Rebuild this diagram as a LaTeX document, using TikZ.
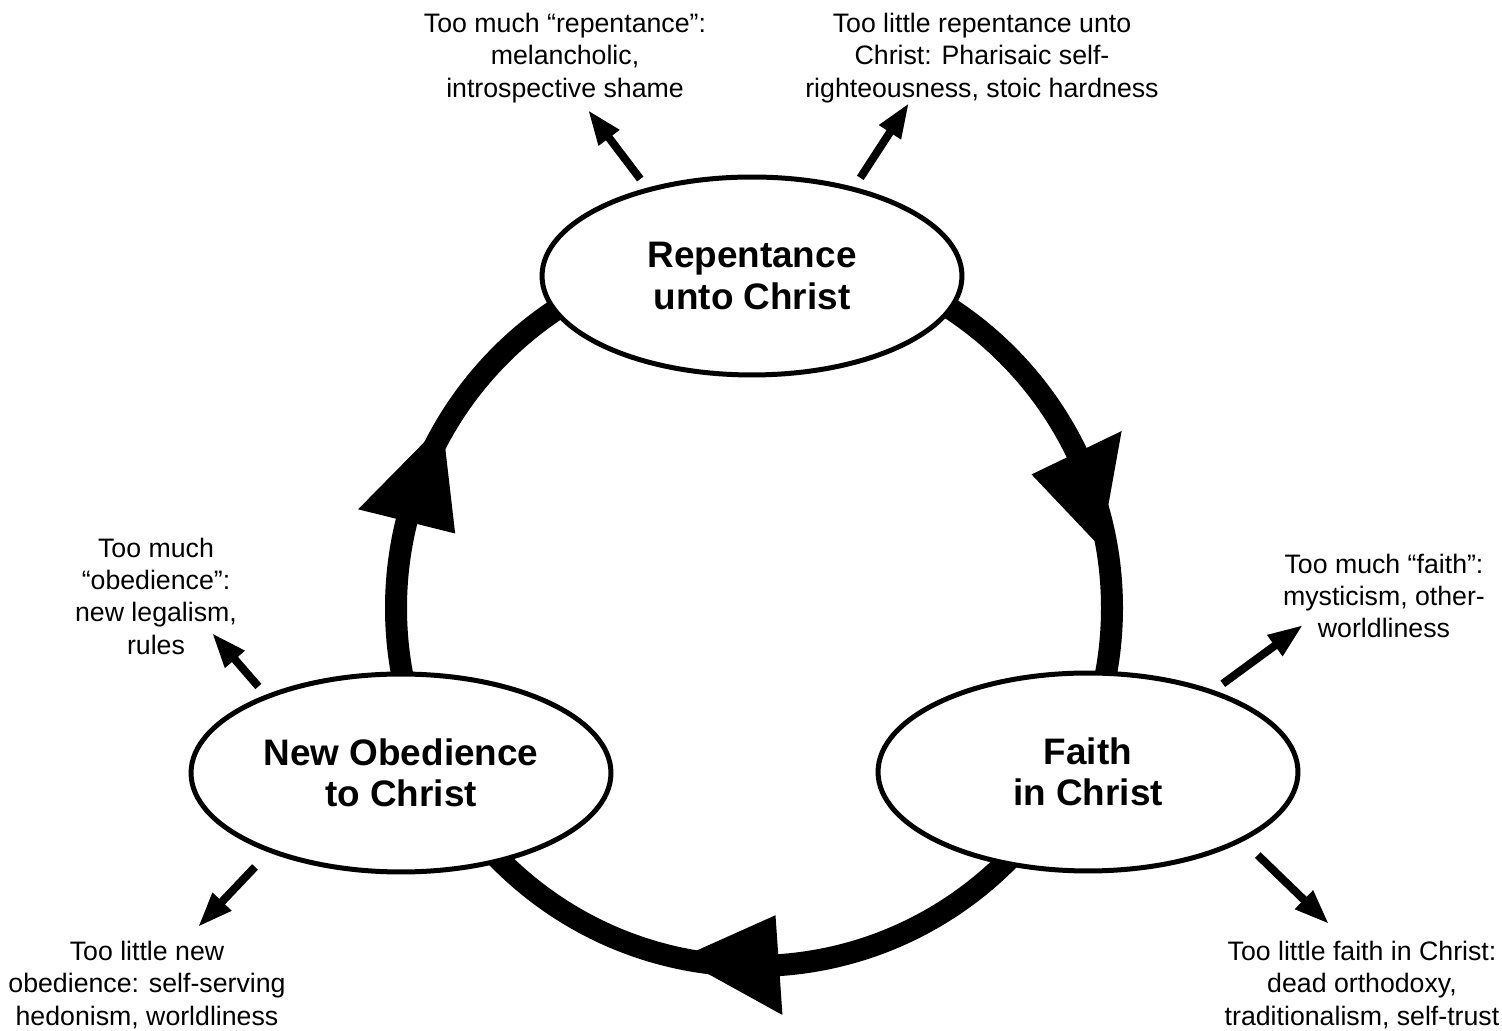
\documentclass[tikz,border=0pt]{standalone}
\usepackage{fontspec}
\setmainfont{Liberation Sans}
\usetikzlibrary{shapes.geometric,arrows.meta}

\begin{document}
\begin{tikzpicture}[x=0.02cm, y=0.02cm,
        stage/.style={ellipse, draw, line width=0.1cm, fill=white, minimum width=8.4cm, minimum height=3.96cm, align=center, font=\fontsize{21}{23.4}\selectfont\bfseries},
        note/.style={align=center, font=\fontsize{15.2}{18.4}\selectfont},
        warn/.style={-{Triangle[length=0.7cm,width=0.48cm]}, line width=0.16cm, shorten <=0.22cm}]
        \useasboundingbox (0,0) rectangle (1502,1031);
        \coordinate (ctr) at (754,423);
        \draw[line width=0.44cm] (ctr) circle[radius=358];
        \fill ([shift={(25.7:308)}]ctr) -- ([shift={(25.7:408)}]ctr) -- ([shift={(9.9:352)}]ctr) -- cycle;
        \fill ([shift={(274:308)}]ctr) -- ([shift={(274:408)}]ctr) -- ([shift={(258:358)}]ctr) -- cycle;
        \fill ([shift={(166:308)}]ctr) -- ([shift={(166:408)}]ctr) -- ([shift={(149.4:362)}]ctr) -- cycle;
        \node[stage] at (752,755) (rep) {Repentance\\unto Christ};
        \node[stage] at (1088,259) (faith) {Faith\\in Christ};
        \node[stage] at (401,258) (obed) {New Obedience\\to Christ};
        \node[note] at (565,973) (repmuch) {Too much “repentance”:\\melancholic,\\introspective shame};
        \node[note] at (982,973) (repless) {Too little repentance unto\\Christ: Pharisaic self-\\righteousness, stoic hardness};
        \node[note] at (1384,435) (faithmuch) {Too much “faith”:\\mysticism, other-\\worldliness};
        \node[note] at (1362,46) (faithless) {Too little faith in Christ:\\dead orthodoxy,\\traditionalism, self-trust};
        \node[note] at (156,435) (obedmuch) {Too much\\“obedience”:\\new legalism,\\rules};
        \node[note] at (147,46) (obedless) {Too little new\\obedience: self-serving\\hedonism, worldliness};
        \coordinate (t1) at (588,921);
        \coordinate (t2) at (909,928);
        \coordinate (t3) at (1303,406);
        \coordinate (t4) at (1329,107);
        \coordinate (t5) at (212,398);
        \coordinate (t6) at (198,104);
        \draw[warn] (rep.140.8) -- (t1);
        \draw[warn] (rep.41.1) -- (t2);
        \draw[warn] (faith.33) -- (t3);
        \draw[warn, shorten <=0.4cm] (faith.-24.5) -- (t4);
        \draw[warn] (obed.150.6) -- (t5);
        \draw[warn, shorten <=0.4cm] (obed.211.4) -- (t6);
    \end{tikzpicture}
\end{document}
